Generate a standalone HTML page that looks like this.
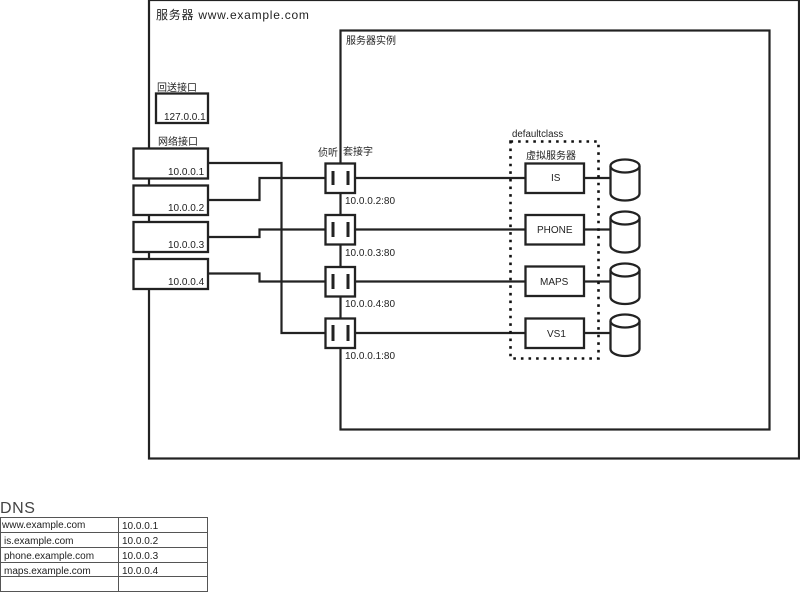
<!DOCTYPE html>
<html><head><meta charset="utf-8"><style>
html,body{margin:0;padding:0;background:#fff}
svg{display:block}
text{font-family:"Liberation Sans","WenQuanYi Zen Hei","Noto Sans CJK SC",sans-serif;font-size:10px;fill:#222}
.b{fill:#fff;stroke:#222;stroke-width:2.3}
.l{fill:none;stroke:#222;stroke-width:2.2}
.bar{fill:none;stroke:#222;stroke-width:3}
.t{fill:none;stroke:#555;stroke-width:1}
</style></head><body>
<svg width="800" height="592" viewBox="0 0 800 592" xmlns="http://www.w3.org/2000/svg">
<rect class="l" x="149" y="0" width="650" height="458.500"/>
<rect class="l" x="340.500" y="30.500" width="429" height="399"/>
<text x="156" y="19" style="font-size:12px;letter-spacing:.75px">服务器 www.example.com</text>
<text x="346" y="44" style="font-size:10px">服务器实例</text>
<text x="157" y="91">回送接口</text>
<rect class="b" x="156" y="93.500" width="52" height="29.500"/>
<text x="164" y="120">127.0.0.1</text>
<text x="158" y="145">网络接口</text>

<path class="l" d="M208 163H281.500V333H325M208 200H259.500V178H325M208 237H259.500V229.500H325M208 273.500H259.500V281.500H325M355 178H525M355 229.500H525M355 281.500H525M355 333H525M584 178H611M584 229.500H611M584 281.500H611M584 333H611"/>

<rect class="b" x="133.500" y="148.500" width="74.500" height="30"/>
<rect class="b" x="133.500" y="185.500" width="74.500" height="29.500"/>
<rect class="b" x="133.500" y="222" width="74.500" height="30"/>
<rect class="b" x="133.500" y="259" width="74.500" height="30"/>
<text x="168" y="175">10.0.0.1</text>
<text x="168" y="211">10.0.0.2</text>
<text x="168" y="248">10.0.0.3</text>
<text x="168" y="285">10.0.0.4</text>

<text x="318" y="156">侦听</text>
<text x="343" y="155">套接字</text>
<g>
<rect class="b" x="325.500" y="163.500" width="29.500" height="29.500"/>
<rect class="b" x="325.500" y="215" width="29.500" height="29.500"/>
<rect class="b" x="325.500" y="267" width="29.500" height="29.500"/>
<rect class="b" x="325.500" y="318.500" width="29.500" height="29.500"/>
<path class="bar" d="M333 171V185M348 171V185M333 222V237M348 222V237M333 274V289M348 274V289M333 325V341M348 325V341"/>
</g>
<text x="345" y="204">10.0.0.2:80</text>
<text x="345" y="256">10.0.0.3:80</text>
<text x="345" y="307">10.0.0.4:80</text>
<text x="345" y="359">10.0.0.1:80</text>

<text x="512" y="137" style="font-size:9.700px">defaultclass</text>
<rect x="510.500" y="141.500" width="88" height="217" fill="none" stroke="#111" stroke-width="2.600" stroke-dasharray="2.600 5"/>
<text x="526" y="159">虚拟服务器</text>
<rect class="b" x="525.500" y="163.500" width="58.500" height="29.500"/>
<rect class="b" x="525.500" y="215" width="58.500" height="29.500"/>
<rect class="b" x="525.500" y="266.500" width="58.500" height="29.500"/>
<rect class="b" x="525.500" y="318.500" width="58.500" height="29.500"/>
<text x="551" y="181">IS</text>
<text x="537" y="233">PHONE</text>
<text x="540" y="285">MAPS</text>
<text x="547" y="337">VS1</text>

<g>
<path class="b" d="M610.500 166V193.500A14.500 7 0 0 0 639.500 193.500V166"/><ellipse class="b" cx="625" cy="166" rx="14.500" ry="6.500"/>
<path class="b" d="M610.500 218V245.500A14.500 7 0 0 0 639.500 245.500V218"/><ellipse class="b" cx="625" cy="218" rx="14.500" ry="6.500"/>
<path class="b" d="M610.500 270V297A14.500 7 0 0 0 639.500 297V270"/><ellipse class="b" cx="625" cy="270" rx="14.500" ry="6.500"/>
<path class="b" d="M610.500 321V349A14.500 7 0 0 0 639.500 349V321"/><ellipse class="b" cx="625" cy="321" rx="14.500" ry="6.500"/>
</g>

<text x="0" y="513" style="font-size:16px;letter-spacing:.6px;fill:#444">DNS</text>
<path class="t" d="M0.500 517.500H207.500V591.500H0.500ZM0 532.500H208M0 547.500H208M0 562.500H208M0 576.500H208M118.500 517V592"/>
<text x="2" y="528">www.example.com</text>
<text x="4" y="544">is.example.com</text>
<text x="4" y="559">phone.example.com</text>
<text x="4" y="574">maps.example.com</text>
<text x="122" y="529">10.0.0.1</text>
<text x="122" y="544">10.0.0.2</text>
<text x="122" y="559">10.0.0.3</text>
<text x="122" y="574">10.0.0.4</text>
</svg>
</body></html>
